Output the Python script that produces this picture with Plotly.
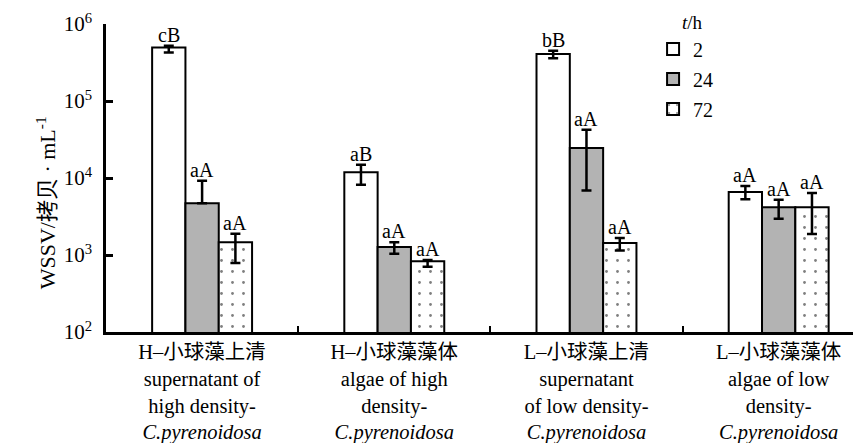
import plotly.graph_objects as go
import math

categories = [
    "H–小球藻上清<br>supernatant of<br>high density-<br><i>C.pyrenoidosa</i>",
    "H–小球藻藻体<br>algae of high<br>density-<br><i>C.pyrenoidosa</i>",
    "L–小球藻上清<br>supernatant<br>of low density-<br><i>C.pyrenoidosa</i>",
    "L–小球藻藻体<br>algae of low<br>density-<br><i>C.pyrenoidosa</i>",
]
series_names = ["2", "24", "72"]

t2 = [4.97e5, 1.19e4, 4.07e5, 6.6e3]
t2_hi = [5.22e5, 1.49e4, 4.51e5, 7.9e3]
t2_lo = [4.28e5, 8.2e3, 3.6e5, 5.3e3]
t2_labels = ["cB", "aB", "bB", "aA"]

t24 = [4.7e3, 1.27e3, 2.45e4, 4.16e3]
t24_hi = [9.2e3, 1.46e3, 4.23e4, 5.23e3]
t24_lo = [4.7e3, 1.04e3, 6.9e3, 2.96e3]
t24_labels = ["aA", "aA", "aA", "aA"]

t72 = [1.46e3, 828, 1.43e3, 4.16e3]
t72_hi = [1.89e3, 861, 1.66e3, 6.39e3]
t72_lo = [787, 705, 1.14e3, 1.87e3]
t72_labels = ["aA", "aA", "aA", "aA"]

ytick_vals = [1e2, 1e3, 1e4, 1e5, 1e6]
ytick_text = ["10<sup>2</sup>", "10<sup>3</sup>", "10<sup>4</sup>", "10<sup>5</sup>", "10<sup>6</sup>"]

FONT = "'Liberation Serif', 'Times New Roman', 'DejaVu Serif', 'Noto Sans CJK SC', serif"
BARGAP = 0.48

series = [
    (t2, t2_hi, t2_lo, t2_labels, dict(color="white")),
    (t24, t24_hi, t24_lo, t24_labels, dict(color="#b3b3b3")),
    (t72, t72_hi, t72_lo, t72_labels,
     dict(color="white", pattern=dict(shape=".", fgcolor="black", bgcolor="white", size=11, solidity=0.05))),
]

fig = go.Figure()
for name, (vals, hi, lo, labs, mk) in zip(series_names, series):
    mk = dict(mk)
    mk["line"] = dict(color="black", width=2)
    fig.add_trace(go.Bar(
        x=categories, y=vals, name=name, marker=mk, legendgroup=name,
        error_y=dict(type="data", symmetric=False,
                     array=[h - v for h, v in zip(hi, vals)],
                     arrayminus=[v - l for v, l in zip(vals, lo)],
                     color="black", thickness=2.5, width=5),
    ))

bw = (1 - BARGAP) / 3
annotations = []
for k, (vals, hi, lo, labs, mk) in enumerate(series):
    for i, (h, lab) in enumerate(zip(hi, labs)):
        annotations.append(dict(
            x=i + (k - 1) * bw, y=math.log10(h), xref="x", yref="y",
            text=lab, showarrow=False, yanchor="bottom", yshift=-2,
            font=dict(family=FONT, size=20, color="black"),
        ))

annotations.append(dict(
    x=-0.1, y=0.42, xref="paper", yref="paper", text="WSSV/拷贝 · mL<sup>-1</sup>",
    textangle=-90, showarrow=False, font=dict(family=FONT, size=22, color="black"),
))
annotations.append(dict(
    x=0.752, y=1.005, xref="paper", yref="paper", text="<i>t</i>/h",
    xanchor="left", yanchor="middle", showarrow=False,
    font=dict(family=FONT, size=19, color="black"),
))

fig.update_layout(
    width=861, height=443,
    margin=dict(l=98, r=0, t=16, b=119),
    paper_bgcolor="white", plot_bgcolor="white",
    barmode="group", bargap=BARGAP, bargroupgap=0,
    font=dict(family=FONT, size=19, color="black"),
    showlegend=True,
    legend=dict(
        x=0.717, y=0.982, xanchor="left", yanchor="top",
        font=dict(family=FONT, size=20), bgcolor="rgba(0,0,0,0)",
        traceorder="grouped", tracegroupgap=1, itemwidth=30,
    ),
    annotations=annotations,
)
fig.update_xaxes(
    type="category", range=[-0.5, 3.47],
    showline=True, linecolor="black", linewidth=2.5,
    ticks="inside", ticklen=6, tickwidth=2, tickcolor="black",
    tickson="boundaries", showgrid=False, zeroline=False,
    tickfont=dict(family=FONT, size=20.5), ticklabelstandoff=0,
)
fig.update_yaxes(
    type="log", range=[2, 6],
    showline=True, linecolor="black", linewidth=2.5,
    ticks="inside", ticklen=7, tickwidth=2.5, tickcolor="black",
    tickvals=ytick_vals, ticktext=ytick_text,
    showgrid=False, zeroline=False,
    tickfont=dict(family=FONT, size=21), ticklabelstandoff=7,
)

fig.write_html("out.html")
